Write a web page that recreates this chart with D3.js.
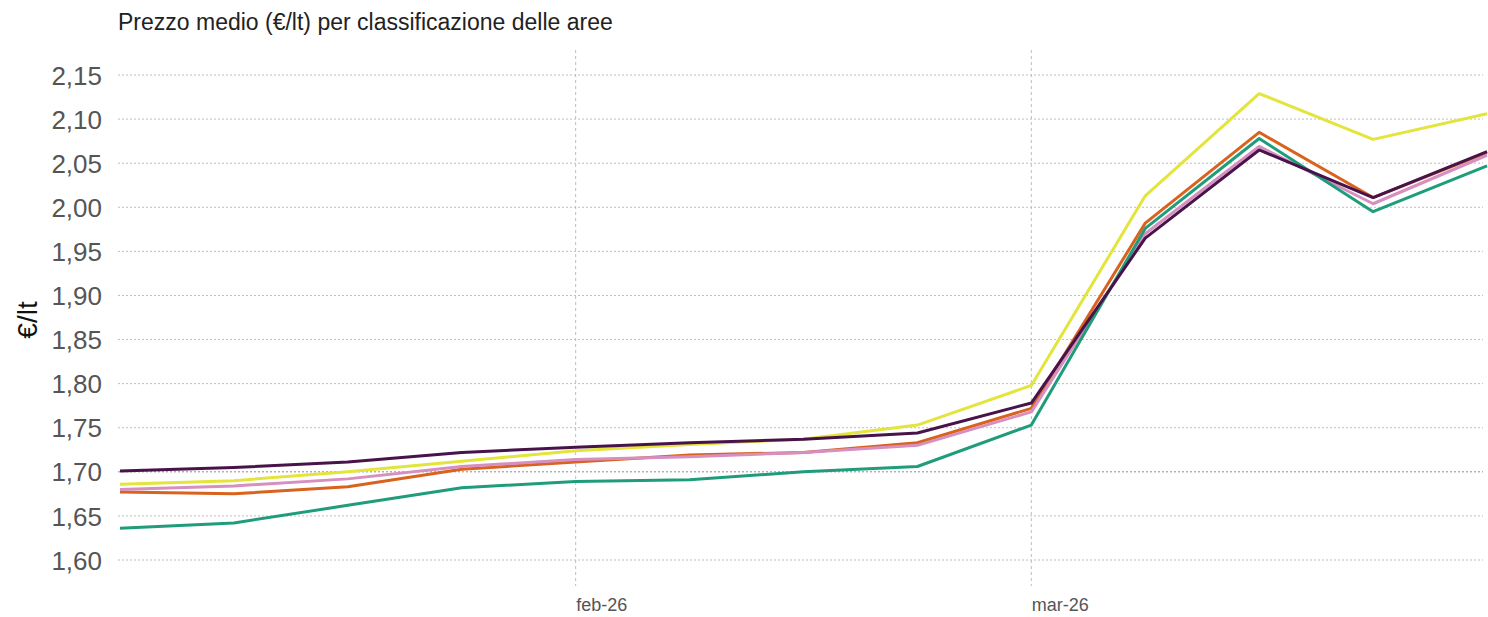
<!DOCTYPE html>
<html>
<head>
<meta charset="utf-8">
<script src="https://cdn.jsdelivr.net/npm/d3@7"></script>
<style>
  html, body { margin: 0; padding: 0; background: #fff; }
  svg { display: block; font-family: "Liberation Sans", Arial, sans-serif; }
</style>
</head>
<body>
<svg id="chart" width="1488" height="617"></svg>
<script>
// ---- Data ----
const dates = ["2026-01-04","2026-01-11","2026-01-18","2026-01-25","2026-02-01","2026-02-08",
               "2026-02-15","2026-02-22","2026-03-01","2026-03-08","2026-03-15","2026-03-22","2026-03-29"];
const seriesNames = ["Serie A", "Serie B", "Serie C", "Serie D", "Serie E"];
const seriesColors = ["#d8621e", "#e3e43c", "#d68fbf", "#1f9d7a", "#47134a"];
const orangeValues = [1.677, 1.675, 1.683, 1.703, 1.711, 1.719, 1.722, 1.733, 1.772, 1.982, 2.085, 2.011, 2.062];
const yellowValues = [1.686, 1.690, 1.700, 1.712, 1.724, 1.731, 1.737, 1.753, 1.798, 2.013, 2.129, 2.077, 2.106];
const pinkValues   = [1.680, 1.684, 1.692, 1.706, 1.714, 1.717, 1.722, 1.730, 1.768, 1.970, 2.069, 2.004, 2.059];
const greenValues  = [1.636, 1.642, 1.662, 1.682, 1.689, 1.691, 1.700, 1.706, 1.753, 1.976, 2.078, 1.995, 2.047];
const purpleValues = [1.701, 1.705, 1.711, 1.722, 1.728, 1.733, 1.737, 1.744, 1.778, 1.965, 2.065, 2.011, 2.063];
const seriesValues = [orangeValues, yellowValues, pinkValues, greenValues, purpleValues];
const yTicks = [1.60, 1.65, 1.70, 1.75, 1.80, 1.85, 1.90, 1.95, 2.00, 2.05, 2.10, 2.15];
const xTickDates = ["2026-02-01", "2026-03-01"];
const xTickLabels = ["feb-26", "mar-26"];
const titleText = "Prezzo medio (€/lt) per classificazione delle aree";
const yAxisTitle = "€/lt";

// ---- Layout ----
const svg = d3.select("#chart");
const parse = d3.timeParse("%Y-%m-%d");
const dateObjs = dates.map(parse);

const x = d3.scaleTime()
  .domain(d3.extent(dateObjs))
  .range([120, 1487]);
const y = d3.scaleLinear()
  .domain([1.60, 2.15])
  .range([560, 75]);

const fmt = v => d3.format(".2f")(v).replace(".", ",");

// horizontal gridlines
svg.append("g")
  .selectAll("line")
  .data(yTicks)
  .join("line")
  .attr("x1", 118).attr("x2", 1483)
  .attr("y1", d => y(d)).attr("y2", d => y(d))
  .attr("stroke", d => Math.abs(d - 1.70) < 1e-9 ? "#8a8a8a" : "#bdbdbd")
  .attr("stroke-width", 1)
  .attr("stroke-dasharray", "2,2");

// vertical gridlines
svg.append("g")
  .selectAll("line")
  .data(xTickDates.map(parse))
  .join("line")
  .attr("x1", d => x(d)).attr("x2", d => x(d))
  .attr("y1", 50).attr("y2", 586)
  .attr("stroke", "#bdbdbd")
  .attr("stroke-width", 1)
  .attr("stroke-dasharray", "3,3");

// y axis tick labels
const yAxis = d3.axisLeft(y).tickValues(yTicks).tickFormat(fmt).tickSize(0).tickPadding(0);
const yg = svg.append("g").attr("transform", "translate(102,0)").call(yAxis);
yg.select(".domain").remove();
yg.selectAll("text")
  .attr("fill", "#555")
  .style("font-size", "26px")
  .style("font-family", "'Liberation Sans', Arial, sans-serif")
  .attr("dy", "0.35em");

// x axis labels
const xAxis = d3.axisBottom(x)
  .tickValues(xTickDates.map(parse))
  .tickFormat((d, i) => xTickLabels[i])
  .tickSize(0).tickPadding(0);
const xg = svg.append("g").attr("transform", "translate(0,605)").call(xAxis);
xg.select(".domain").remove();
xg.selectAll("text")
  .attr("text-anchor", "start")
  .attr("dy", "0.35em")
  .attr("fill", "#555")
  .style("font-size", "18px")
  .style("font-family", "'Liberation Sans', Arial, sans-serif");

// title
svg.append("text")
  .attr("x", 118).attr("y", 30)
  .attr("fill", "#222")
  .style("font-size", "23px")
  .text(titleText);

// y axis title
svg.append("text")
  .attr("transform", "translate(37,320) rotate(-90)")
  .attr("text-anchor", "middle")
  .attr("fill", "#111")
  .style("font-size", "28px")
  .text(yAxisTitle);

// lines
const line = d3.line()
  .x((d, i) => x(dateObjs[i]))
  .y(d => y(d));

svg.append("g")
  .selectAll("path")
  .data(seriesValues.map((vals, i) => ({ name: seriesNames[i], color: seriesColors[i], vals })))
  .join("path")
  .attr("d", d => line(d.vals))
  .attr("fill", "none")
  .attr("stroke", d => d.color)
  .attr("stroke-width", 3)
  .attr("stroke-linejoin", "round");
</script>
</body>
</html>
